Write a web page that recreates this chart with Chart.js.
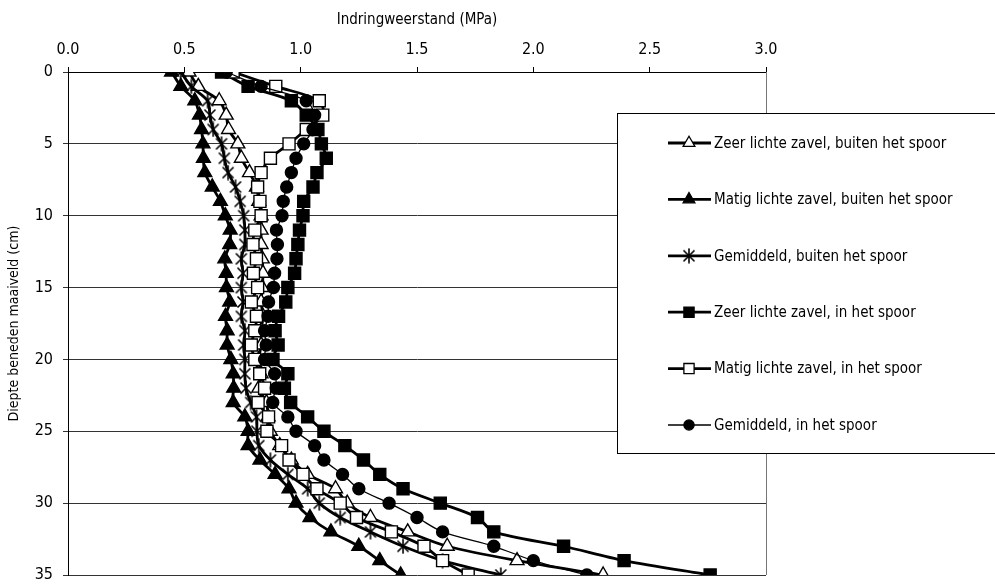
<!DOCTYPE html>
<html>
<head>
<meta charset="utf-8">
<script src="https://cdn.jsdelivr.net/npm/chart.js@4.4.1/dist/chart.umd.min.js"></script>
<style>
  body { margin: 0; background: #fff; }
</style>
</head>
<body>
<canvas id="chart" width="995" height="585"></canvas>
<script>
  // depth in cm (y), resistance in MPa (x)
  const depths = [0, 1, 2, 3, 4, 5, 6, 7, 8, 9, 10, 11, 12, 13, 14, 15, 16, 17,
    18, 19, 20, 21, 22, 23, 24, 25, 26, 27, 28, 29, 30, 31, 32, 33, 34, 35];

  const zeerBuiten = [0.52, 0.56, 0.65, 0.68, 0.69, 0.73, 0.745, 0.78, 0.81, 0.82, 0.83, 0.83,
    0.83, 0.835, 0.838, 0.835, 0.83, 0.838, 0.83, 0.83, 0.82, 0.83, 0.82, 0.853, 0.86, 0.87,
    0.91, 0.96, 1.03, 1.15, 1.2, 1.3, 1.46, 1.63, 1.93, 2.3];
  const matigBuiten = [0.445, 0.485, 0.545, 0.565, 0.574, 0.58, 0.582, 0.588, 0.62, 0.655, 0.676,
    0.697, 0.695, 0.674, 0.68, 0.681, 0.695, 0.677, 0.684, 0.684, 0.7, 0.71, 0.712, 0.71, 0.76,
    0.774, 0.774, 0.825, 0.89, 0.95, 0.98, 1.04, 1.13, 1.25, 1.34, 1.43];
  const gemBuiten = [0.484, 0.53, 0.6, 0.61, 0.624, 0.66, 0.672, 0.688, 0.72, 0.74, 0.755, 0.76,
    0.76, 0.745, 0.752, 0.745, 0.752, 0.745, 0.76, 0.755, 0.76, 0.76, 0.765, 0.785, 0.81, 0.812,
    0.82, 0.87, 0.945, 1.03, 1.08, 1.17, 1.3, 1.44, 1.61, 1.86];
  const zeerSpoor = [0.66, 0.774, 0.96, 1.024, 1.074, 1.089, 1.11, 1.07, 1.053, 1.013, 1.01, 0.995,
    0.988, 0.98, 0.974, 0.945, 0.936, 0.905, 0.89, 0.903, 0.881, 0.945, 0.93, 0.957, 1.03, 1.1,
    1.19, 1.27, 1.34, 1.44, 1.6, 1.76, 1.83, 2.13, 2.39, 2.76];
  const matigSpoor = [0.71, 0.893, 1.08, 1.095, 1.024, 0.95, 0.87, 0.83, 0.815, 0.825, 0.83, 0.803,
    0.795, 0.81, 0.797, 0.815, 0.788, 0.81, 0.803, 0.788, 0.803, 0.824, 0.845, 0.817, 0.862, 0.855,
    0.918, 0.95, 1.01, 1.07, 1.17, 1.24, 1.39, 1.53, 1.61, 1.72];
  const gemSpoor = [0.68, 0.83, 1.024, 1.06, 1.053, 1.013, 0.98, 0.96, 0.94, 0.925, 0.92, 0.896,
    0.9, 0.898, 0.888, 0.883, 0.862, 0.86, 0.845, 0.852, 0.845, 0.888, 0.895, 0.88, 0.945, 0.98,
    1.06, 1.1, 1.18, 1.25, 1.38, 1.5, 1.61, 1.83, 2.0, 2.23];

  const labels = [
    "Zeer lichte zavel, buiten het spoor",
    "Matig lichte zavel, buiten het spoor",
    "Gemiddeld, buiten het spoor",
    "Zeer lichte zavel, in het spoor",
    "Matig lichte zavel, in het spoor",
    "Gemiddeld, in het spoor"
  ];

  const FONT = "'Liberation Sans Narrow', 'DejaVu Sans Condensed', Arial, sans-serif";

  // asterisk marker: X with a vertical bar
  const star = document.createElement("canvas");
  star.width = 16; star.height = 16;
  (() => {
    const c = star.getContext("2d");
    c.strokeStyle = "#000";
    c.lineWidth = 1.6;
    c.beginPath();
    c.moveTo(2.5, 2.5); c.lineTo(13.5, 13.5);
    c.moveTo(13.5, 2.5); c.lineTo(2.5, 13.5);
    c.moveTo(8, 0.5); c.lineTo(8, 15.5);
    c.stroke();
  })();

  const toPoints = (vals) => vals.map((v, i) => ({ x: v, y: depths[i] }));

  const styles = [
    { data: zeerBuiten, pointStyle: "triangle", bg: "#fff", radius: 8, width: 2.8 },
    { data: matigBuiten, pointStyle: "triangle", bg: "#000", radius: 8, width: 2.8 },
    { data: gemBuiten, pointStyle: star, bg: "#000", radius: 8, width: 2.8 },
    { data: zeerSpoor, pointStyle: "rect", bg: "#000", radius: 8.5, width: 2.8 },
    { data: matigSpoor, pointStyle: "rect", bg: "#fff", radius: 8.5, width: 2.8 },
    { data: gemSpoor, pointStyle: "circle", bg: "#000", radius: 6, width: 1.3 }
  ];

  const datasets = styles.map((s, i) => ({
    label: labels[i],
    data: toPoints(s.data),
    showLine: true,
    borderColor: "#000",
    borderWidth: s.width,
    tension: 0.3,
    pointStyle: s.pointStyle,
    pointRadius: s.radius,
    pointBackgroundColor: s.bg,
    pointBorderColor: "#000",
    pointBorderWidth: 1.4,
    order: 6 - i
  }));

  // frame on the right of the plot + custom legend box
  const extras = {
    id: "extras",
    afterDraw(chart) {
      const { ctx, chartArea } = chart;
      ctx.save();
      ctx.strokeStyle = "#777";
      ctx.lineWidth = 1;
      ctx.beginPath();
      ctx.moveTo(Math.round(chartArea.right) + 0.5, chartArea.top);
      ctx.lineTo(Math.round(chartArea.right) + 0.5, chartArea.bottom);
      ctx.stroke();

      // legend box
      ctx.fillStyle = "#fff";
      ctx.fillRect(617, 113, 390, 340);
      ctx.strokeStyle = "#000";
      ctx.strokeRect(617.5, 113.5, 390, 340);

      ctx.font = "15px " + FONT;
      ctx.textBaseline = "middle";
      ctx.textAlign = "left";
      datasets.forEach((ds, i) => {
        const y = 143 + i * 56.4;
        ctx.strokeStyle = "#000";
        ctx.lineWidth = ds.borderWidth;
        ctx.beginPath();
        ctx.moveTo(668, y);
        ctx.lineTo(711, y);
        ctx.stroke();
        ctx.fillStyle = ds.pointBackgroundColor;
        ctx.strokeStyle = "#000";
        ctx.lineWidth = 1.3;
        Chart.helpers.drawPoint(ctx, {
          pointStyle: ds.pointStyle,
          radius: ds.pointRadius * 0.85,
          borderWidth: 1.3,
          rotation: 0
        }, 689, y);
        ctx.fillStyle = "#000";
        ctx.fillText(ds.label, 714, y + 1);
      });
      ctx.restore();
    }
  };

  new Chart(document.getElementById("chart"), {
    type: "scatter",
    data: { datasets },
    plugins: [extras],
    options: {
      responsive: false,
      animation: false,
      layout: { padding: { left: 0, top: 0, right: 229, bottom: 10 } },
      plugins: { legend: { display: false }, tooltip: { enabled: false } },
      scales: {
        x: {
          type: "linear",
          position: "top",
          min: 0,
          max: 3,
          afterFit: (s) => { s.height = 72; },
          ticks: {
            stepSize: 0.5,
            padding: 8,
            color: "#000",
            font: { family: FONT, size: 16 },
            callback: (v) => v.toFixed(1)
          },
          grid: { drawOnChartArea: false, drawTicks: true, tickLength: 5, color: "#000" },
          border: { color: "#000" },
          title: {
            display: true,
            text: "Indringweerstand (MPa)",
            color: "#000",
            font: { family: FONT, size: 15 },
            padding: { top: 11, bottom: 0 }
          }
        },
        y: {
          type: "linear",
          reverse: true,
          min: 0,
          max: 35,
          afterFit: (s) => {
            s.width = 68;
            s.paddingTop = 0;
            s.paddingBottom = 0;
          },
          ticks: {
            stepSize: 5,
            padding: 10,
            color: "#000",
            font: { family: FONT, size: 16 }
          },
          grid: { color: "#333", tickLength: 5 },
          border: { color: "#000" },
          title: {
            display: true,
            text: "Diepte beneden maaiveld (cm)",
            color: "#000",
            font: { family: FONT, size: 14 },
            padding: { top: 6, bottom: 0 }
          }
        }
      }
    }
  });
</script>
</body>
</html>
